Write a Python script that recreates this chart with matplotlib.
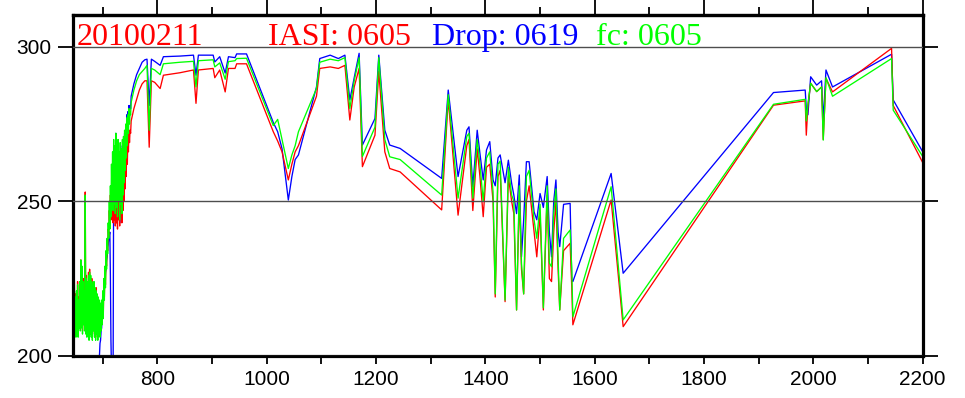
import matplotlib.pyplot as plt
import numpy as np

# CO2 band: channels every 1 cm-1 from 646 to 752
wn_co2 = np.arange(646, 753)

iasi_co2 = [233, 212, 225, 208, 220, 207, 220, 209, 224, 207, 219, 210, 222, 209, 231, 210,
            228, 208, 225, 211, 220, 209, 253, 208, 226, 207, 223, 210, 227, 206, 228, 208,
            225, 207, 225, 206, 222, 209, 223, 207, 221, 206, 222, 208, 219, 206, 218, 208,
            217, 207, 216, 209, 217, 211, 220, 213, 224, 219, 228, 223, 232, 229, 236, 234,
            241, 239, 247, 242, 252, 244,
            255, 244, 262, 243, 264, 244, 262, 242, 265, 243, 261, 241, 262, 244, 259, 242,
            261, 245, 260, 243, 262, 247, 263, 250, 266, 254, 268, 258, 270, 262, 271, 266,
            273, 269, 273, 272, 276]

drop_co2 = [195, 195, 195, 195, 195, 195, 195, 195, 195, 195, 195, 195, 195, 195, 195, 195,
            195, 195, 195, 195, 195, 195, 195, 195, 195, 195, 195, 195, 195, 195, 195, 195,
            195, 195, 195, 195, 195, 195, 195, 195, 195, 195, 195, 195, 195, 195, 196, 199,
            200, 204, 205, 208, 209, 213, 214, 218, 218, 222, 223, 227, 228, 231, 232, 235,
            236, 238, 239, 240, 226, 205,
            196, 196, 196, 196, 258, 246, 265, 244, 272, 262, 268, 244, 266, 248, 264, 243,
            263, 248, 266, 249, 268, 256, 270, 260, 272, 265, 274, 268, 278, 272, 279, 275,
            281, 278, 281, 280, 284]

fc_co2 = [232, 210, 226, 207, 219, 206, 221, 208, 223, 206, 218, 209, 224, 208, 231, 209,
          229, 207, 224, 210, 221, 208, 252, 207, 225, 206, 224, 209, 226, 205, 227, 207,
          226, 206, 224, 205, 223, 208, 224, 206, 222, 205, 221, 207, 220, 205, 219, 207,
          218, 206, 217, 208, 218, 210, 221, 212, 225, 218, 229, 222, 234, 228, 238, 233,
          243, 238, 250, 241, 255, 245,
          262, 250, 266, 247, 270, 249, 268, 246, 272, 248, 268, 245, 270, 250, 266, 244,
          269, 249, 267, 246, 270, 252, 271, 256, 273, 260, 275, 264, 277, 268, 278, 272,
          280, 275, 279, 278, 282]

# remaining channels (window, ozone, water vapour, shortwave)
wn_rest = [757, 762, 767, 772, 777, 781, 785, 789, 795, 805, 811, 841, 866, 870.6, 875, 902,
           905, 914, 924, 930, 942, 945, 963, 1012, 1020, 1028, 1039.5, 1046, 1052, 1058, 1091,
           1097, 1116, 1131, 1143, 1152, 1160, 1169, 1175, 1198, 1205, 1216, 1225, 1244, 1320,
           1332, 1350, 1366, 1370, 1377, 1385, 1390, 1396, 1402, 1408, 1414, 1418, 1423, 1427,
           1436, 1442, 1448, 1452, 1457, 1462, 1466, 1470, 1475, 1480, 1489, 1494, 1500, 1506,
           1513, 1517, 1521, 1525, 1529, 1533, 1536, 1543, 1555, 1558, 1560, 1630, 1652, 1927,
           1985, 1987, 1990, 1995, 2006, 2015, 2018, 2023, 2035, 2143, 2146, 2200]

iasi_rest = [280, 283, 286, 288, 289, 289, 267.5, 289, 288.5, 286.5, 290.8, 291.6, 292.5, 281.7,
             292.5, 293, 290, 292.5, 285.4, 293, 293, 294.5, 294.5, 272.5, 269.5, 266, 256.9, 262,
             266, 268, 284, 293, 293.5, 293, 294, 276.3, 287, 293, 261.2, 271.4, 292, 266, 260.6,
             259.5, 247.2, 283, 245.5, 268, 270, 247, 267, 258, 245, 261, 262, 250, 219, 258, 260,
             217.5, 258, 250, 246, 214.8, 252, 228, 220, 250, 255, 240, 232, 246, 214.8, 252, 225,
             224, 240, 250, 228, 214.8, 234, 236.4, 222, 210, 250.4, 209.4, 281.1, 282.5, 271.4,
             281, 288.2, 285.5, 287, 270, 289.8, 285.4, 299.5, 281, 262.5]

drop_rest = [288, 291, 293, 295, 295.8, 296, 281, 296, 295.3, 294, 296.8, 297, 297.3, 290.8, 297.3,
             297.3, 295.1, 296.8, 291.5, 296.8, 296.5, 297.7, 297.7, 275.5, 272.5, 267, 250.4, 258,
             263.5, 265, 287, 296.2, 297.3, 296.2, 297.3, 282.8, 290, 297.9, 268.2, 276.8, 297.3,
             273, 268.2, 267.1, 257.4, 286, 258, 273, 274.1, 254.7, 273, 265.5, 256.9, 266.6,
             269.3, 256.9, 255, 264, 265, 256, 263.3, 255.8, 252, 246, 258.5, 232, 244, 262.8,
             262.8, 246.6, 244, 252.5, 248, 258, 240, 232, 250, 256.9, 240, 235.3, 249, 249.3,
             224.5, 224, 259, 226.7, 285.2, 286, 280, 278, 290.3, 287.6, 289, 276, 292.5, 287,
             297.6, 282.8, 266]

fc_rest = [286, 289, 291, 292, 293, 294, 273, 293, 292.5, 291, 294.5, 295, 295.3, 287, 295.5,
           295.8, 293.5, 294.8, 289.5, 295.2, 295.5, 296.2, 296.3, 274.5, 276.5, 270, 260.6, 265,
           268, 272.5, 286.5, 295, 296, 295.5, 296.5, 280, 289, 296.5, 264.5, 274, 296.5, 270,
           264.4, 263.5, 252, 284.5, 251, 271, 272, 251, 270, 262, 250, 264, 266, 253, 220, 262,
           263, 218, 261, 252, 250, 214.8, 255, 230, 220, 258, 260, 244, 238, 249, 215.5, 255,
           230, 228.8, 246, 254, 232, 214.8, 238, 240.7, 228, 212.6, 254.7, 211.6, 281.4, 283,
           276, 281.5, 288.2, 285.5, 287, 269.8, 290, 284, 296.2, 279.5, 264.5]

wn = np.concatenate([wn_co2, wn_rest])
iasi = np.concatenate([iasi_co2, iasi_rest])
drop = np.concatenate([drop_co2, drop_rest])
fc = np.concatenate([fc_co2, fc_rest])

fig = plt.figure(figsize=(9.65, 3.98), dpi=100)
ax = fig.add_axes([0.0753, 0.1063, 0.8809, 0.856])

ax.plot(wn, drop, color='#0000ff', lw=0.95)
ax.plot(wn, iasi, color='#ff0000', lw=0.95)
ax.plot(wn, fc, color='#00ff00', lw=0.95)

ax.set_xlim(645, 2200)
ax.set_ylim(200, 310.3)

ax.set_xticks(np.arange(800, 2201, 200))
ax.set_xticks(np.arange(700, 2201, 100), minor=True)
ax.set_yticks([200, 250, 300])
ax.yaxis.grid(True, color='0.3', lw=1.0)
ax.set_axisbelow(False)

for sp in ax.spines.values():
    sp.set_linewidth(2.3)

ax.tick_params(axis='x', which='both', direction='out', length=6, width=1.3,
               top=False, labelsize=15, pad=4)
ax.tick_params(axis='y', which='major', direction='out', length=11, width=1.3,
               right=True, labelsize=15, pad=4)
for lab in ax.get_xticklabels() + ax.get_yticklabels():
    lab.set_family('Liberation Sans')

top = ax.secondary_xaxis('top')
top.set_xticks(np.arange(800, 2201, 200))
top.set_xticks(np.arange(700, 2201, 100), minor=True)
top.tick_params(which='major', direction='out', length=11, width=1.3, labeltop=False)
top.tick_params(which='minor', direction='out', length=6, width=1.3)
top.spines['top'].set_linewidth(2.3)

# header: date and analysis times of each source
hdr = [(653, '20100211', '#ff0000'), (1002, 'IASI: 0605', '#ff0000'),
       (1302, 'Drop: 0619', '#0000ff'), (1602, 'fc: 0605', '#00ff00')]
for xh, s, c in hdr:
    ax.text(xh, 300.6, s, color=c, fontsize=23, family='Liberation Serif',
            va='baseline', ha='left')

fig.savefig('out.png', dpi=100)
